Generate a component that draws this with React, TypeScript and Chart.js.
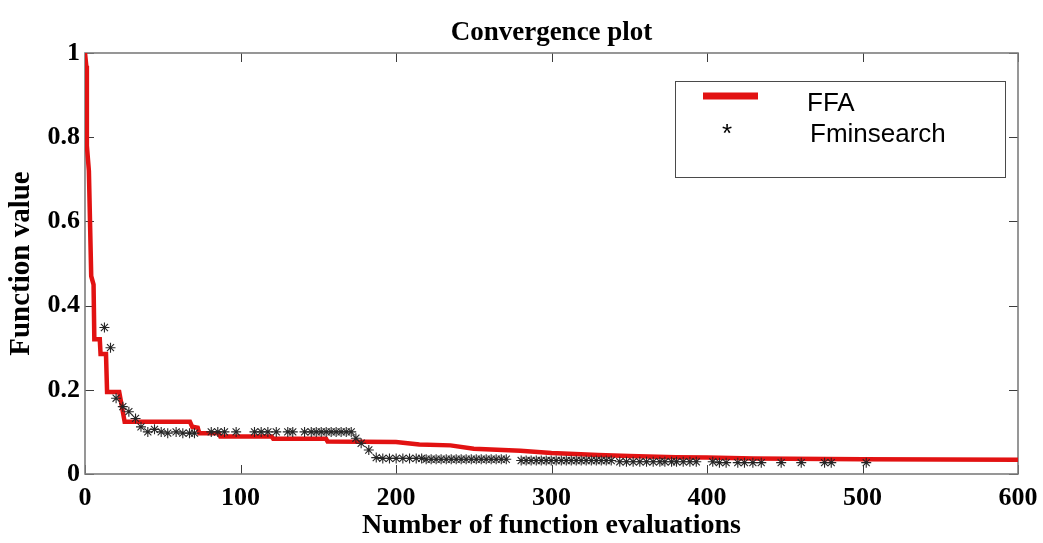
import React, { useEffect, useRef } from "react";
import { Chart, registerables } from "chart.js";

Chart.register(...registerables);

// ---------- data ----------
const chartTitle = "Convergence plot";
const xAxisLabel = "Number of function evaluations";
const yAxisLabel = "Function value";
const seriesLabels = ["FFA", "Fminsearch"];

const xTicks = [0, 100, 200, 300, 400, 500, 600];
const yTicks = [0, 0.2, 0.4, 0.6, 0.8, 1];

// FFA best-so-far curve (corner points of the step line)
const ffaEvals = [
  0, 0.8, 1.2, 2.5, 4, 5.5, 6, 9.5, 10, 13.5, 14.2, 22, 25.5, 67.5, 69, 72.5,
  73.5, 86, 87, 120, 121, 155, 156, 200, 215, 235, 250, 280, 300, 330, 350,
  380, 400, 430, 500, 600,
];
const ffaValues = [
  1.0, 0.97, 0.78, 0.72, 0.47, 0.45, 0.32, 0.32, 0.285, 0.285, 0.195, 0.195,
  0.124, 0.124, 0.112, 0.11, 0.097, 0.097, 0.089, 0.089, 0.084, 0.084, 0.077,
  0.076, 0.07, 0.068, 0.06, 0.055, 0.05, 0.045, 0.043, 0.04, 0.039, 0.037,
  0.035, 0.034,
];

// Fminsearch evaluations (asterisks)
const fminEvals = [
  12.5, 16.4, 20, 24.3, 28.2, 32.5, 36, 40.4, 44.7, 49, 53.2, 58.6, 62.9, 67.2,
  70.4, 81.2, 85.4, 89.7, 97.2, 109, 113.3, 117.6, 123, 130.4, 133.6, 141.2,
  145.5, 148.7, 151.9, 155.1, 158.3, 161.5, 164.7, 168, 171.2, 174.2, 177.6,
  182.5, 187.3, 191.5, 195.8, 200.1, 204.4, 208.7, 213, 216.5, 219.4, 222.6,
  225.8, 229, 232.3, 235.5, 238.7, 241.9, 245.1, 248.4, 251.6, 254.8, 258,
  261.2, 264.4, 267.7, 270.9, 280.5, 283.7, 286.9, 290.2, 293.4, 296.6, 299.8,
  303, 306.3, 309.5, 312.7, 315.9, 319.1, 322.3, 325.6, 328.8, 332, 335.2,
  338.4, 343.9, 348.2, 352.5, 356.8, 361.1, 365.4, 369.7, 372.9, 377.2, 380.4,
  384.7, 389, 393.1, 403.7, 408, 412.3, 419.8, 424.1, 429.5, 434.9, 447.7,
  460.6, 475.6, 479.9, 502.4,
];
const fminValues = [
  0.348, 0.3, 0.18, 0.16, 0.148, 0.132, 0.112, 0.1, 0.106, 0.1, 0.097, 0.1,
  0.097, 0.097, 0.097, 0.1, 0.1, 0.1, 0.1, 0.1, 0.1, 0.1, 0.1, 0.1, 0.1, 0.1,
  0.1, 0.1, 0.1, 0.1, 0.1, 0.1, 0.1, 0.1, 0.1, 0.085, 0.073, 0.057, 0.039,
  0.037, 0.037, 0.037, 0.037, 0.037, 0.037, 0.037, 0.035, 0.035, 0.035, 0.035,
  0.035, 0.035, 0.035, 0.035, 0.035, 0.035, 0.035, 0.035, 0.035, 0.035, 0.035,
  0.035, 0.035, 0.032, 0.032, 0.032, 0.032, 0.032, 0.032, 0.032, 0.032, 0.032,
  0.032, 0.032, 0.032, 0.032, 0.032, 0.032, 0.032, 0.032, 0.032, 0.032, 0.029,
  0.029, 0.029, 0.029, 0.029, 0.029, 0.029, 0.029, 0.029, 0.029, 0.029, 0.029,
  0.029, 0.029, 0.027, 0.027, 0.027, 0.027, 0.027, 0.027, 0.027, 0.027, 0.027,
  0.027, 0.027, 0.027,
];

// ---------- styling ----------
const SERIF = "'Liberation Serif', 'Times New Roman', serif";
const SANS = "'Liberation Sans', Arial, sans-serif";
const RED = "rgb(226, 18, 18)";
const STAR = "#262626";

const framePlugin = {
  id: "matlabFrame",
  beforeDatasetsDraw(chart: any) {
    const { ctx, chartArea: a, scales } = chart;
    ctx.save();
    ctx.strokeStyle = "#3c3c3c";
    ctx.lineWidth = 1;
    ctx.beginPath();
    const tl = 9;
    for (const v of xTicks) {
      const px = Math.round(scales.x.getPixelForValue(v)) + 0.5;
      ctx.moveTo(px, a.bottom);
      ctx.lineTo(px, a.bottom - tl);
      ctx.moveTo(px, a.top);
      ctx.lineTo(px, a.top + tl);
    }
    for (const v of yTicks) {
      const py = Math.round(scales.y.getPixelForValue(v)) + 0.5;
      ctx.moveTo(a.left, py);
      ctx.lineTo(a.left + tl, py);
      ctx.moveTo(a.right, py);
      ctx.lineTo(a.right - tl, py);
    }
    ctx.stroke();
    ctx.strokeStyle = "#7d7d7d";
    ctx.lineWidth = 1.6;
    ctx.strokeRect(a.left, a.top, a.right - a.left, a.bottom - a.top);
    ctx.restore();
  },
};

const titleLegendPlugin = {
  id: "titleLegend",
  afterDraw(chart: any) {
    const { ctx, chartArea: a } = chart;
    ctx.save();
    // title
    ctx.fillStyle = "#000";
    ctx.font = `bold 27px ${SERIF}`;
    ctx.textAlign = "center";
    ctx.textBaseline = "alphabetic";
    ctx.fillText(chartTitle, (a.left + a.right) / 2, a.top - 13);

    // legend box
    const bx = a.right - 343;
    const by = a.top + 28;
    const bw = 330;
    const bh = 96;
    ctx.fillStyle = "#fff";
    ctx.fillRect(bx, by, bw, bh);
    ctx.strokeStyle = "#4a4a4a";
    ctx.lineWidth = 1;
    ctx.strokeRect(bx + 0.5, by + 0.5, bw, bh);

    const ds = chart.data.datasets;
    // FFA entry
    ctx.strokeStyle = ds[1].borderColor;
    ctx.lineWidth = 7;
    ctx.beginPath();
    ctx.moveTo(bx + 28, by + 15);
    ctx.lineTo(bx + 83, by + 15);
    ctx.stroke();
    ctx.fillStyle = "#000";
    ctx.font = `26px ${SANS}`;
    ctx.textAlign = "left";
    ctx.textBaseline = "alphabetic";
    ctx.fillText(ds[1].label, bx + 132, by + 30);
    // Fminsearch entry
    ctx.textAlign = "center";
    ctx.fillText("*", bx + 52, by + 61);
    ctx.textAlign = "left";
    ctx.fillText(ds[0].label, bx + 135, by + 61);
    ctx.restore();
  },
};

export default function App() {
  const canvasRef = useRef<HTMLCanvasElement | null>(null);

  useEffect(() => {
    const canvas = canvasRef.current;
    if (!canvas) return;
    const ffaData = ffaEvals.map((x, i) => ({ x, y: ffaValues[i] }));
    const fminData = fminEvals.map((x, i) => ({ x, y: fminValues[i] }));

    const chart = new Chart(canvas, {
      type: "scatter",
      data: {
        datasets: [
          {
            label: seriesLabels[1],
            data: fminData,
            showLine: false,
            pointStyle: "star",
            pointRadius: 5,
            borderColor: STAR,
            backgroundColor: STAR,
            borderWidth: 1.1,
            order: 1,
          },
          {
            label: seriesLabels[0],
            data: ffaData,
            showLine: true,
            pointRadius: 0,
            borderColor: RED,
            backgroundColor: RED,
            borderWidth: 4.5,
            borderJoinStyle: "miter",
            order: 2,
          },
        ],
      },
      options: {
        responsive: false,
        animation: false,
        events: [],
        devicePixelRatio: 1,
        layout: { padding: { top: 53, right: 25, left: 0, bottom: 0 } },
        plugins: {
          legend: { display: false },
          title: { display: false },
          tooltip: { enabled: false },
        },
        scales: {
          x: {
            type: "linear",
            min: 0,
            max: 600,
            afterBuildTicks: (s: any) => {
              s.ticks = xTicks.map((v) => ({ value: v }));
            },
            afterFit: (s: any) => {
              s.height = 69;
              s.paddingLeft = 0;
              s.paddingRight = 0;
            },
            grid: { display: false, drawTicks: false },
            border: { display: false },
            ticks: {
              color: "#000",
              padding: 9,
              maxRotation: 0,
              autoSkip: false,
              font: { family: SERIF, size: 26, weight: "bold" },
              callback: (v: any) => String(v),
            },
            title: {
              display: true,
              text: xAxisLabel,
              color: "#000",
              padding: { top: 0, bottom: 0 },
              font: { family: SERIF, size: 28, weight: "bold" },
            },
          },
          y: {
            type: "linear",
            min: 0,
            max: 1,
            afterBuildTicks: (s: any) => {
              s.ticks = yTicks.map((v) => ({ value: v }));
            },
            afterFit: (s: any) => {
              s.width = 85;
              s.paddingTop = 0;
              s.paddingBottom = 0;
            },
            grid: { display: false, drawTicks: false },
            border: { display: false },
            ticks: {
              color: "#000",
              padding: 5,
              autoSkip: false,
              font: { family: SERIF, size: 26, weight: "bold" },
              callback: (v: any) => String(v),
            },
            title: {
              display: true,
              text: yAxisLabel,
              color: "#000",
              padding: { top: 4, bottom: 0 },
              font: { family: SERIF, size: 29, weight: "bold" },
            },
          },
        },
      },
      plugins: [framePlugin, titleLegendPlugin],
    } as any);

    return () => chart.destroy();
  }, []);

  return (
    <div style={{ position: "fixed", left: 0, top: 0, width: 1043, height: 543, background: "#fff" }}>
      <canvas ref={canvasRef} width={1043} height={543} style={{ display: "block" }} />
    </div>
  );
}
